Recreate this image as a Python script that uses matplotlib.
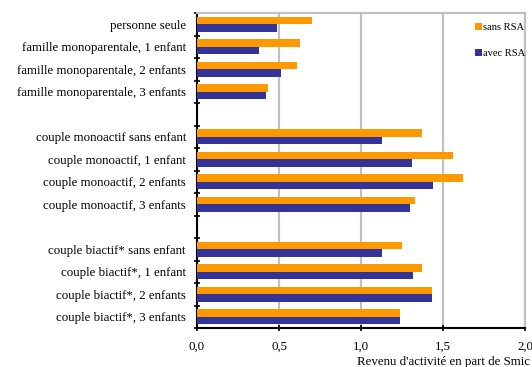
import numpy as np
import matplotlib
matplotlib.use('Agg')
import matplotlib.pyplot as plt
from matplotlib.ticker import FixedLocator, FuncFormatter

# catégories de ménages, de haut en bas ('' = ligne vide entre les groupes)
categories = [
    'personne seule',
    'famille monoparentale, 1 enfant',
    'famille monoparentale, 2 enfants',
    'famille monoparentale, 3 enfants',
    '',
    'couple monoactif sans enfant',
    'couple monoactif, 1 enfant',
    'couple monoactif, 2 enfants',
    'couple monoactif, 3 enfants',
    '',
    'couple biactif* sans enfant',
    'couple biactif*, 1 enfant',
    'couple biactif*, 2 enfants',
    'couple biactif*, 3 enfants',
]

# revenu d'activité en part de Smic (None = pas de barre)
sans_rsa = [0.70, 0.63, 0.61, 0.43, None,
            1.37, 1.56, 1.62, 1.33, None,
            1.25, 1.37, 1.43, 1.24]
avec_rsa = [0.49, 0.38, 0.51, 0.42, None,
            1.13, 1.31, 1.44, 1.30, None,
            1.13, 1.32, 1.43, 1.24]

ORANGE = '#ff9900'
BLEU = '#333399'


def virgule(x, pos):
    return '{:.1f}'.format(x).replace('.', ',')


def main():
    plt.rcParams['font.family'] = ['Liberation Serif', 'DejaVu Serif']

    fig = plt.figure(figsize=(5.32, 3.67), dpi=100)
    ax = fig.add_axes([197 / 532, 1 - 328 / 367, 328 / 532, 315 / 367])

    n = len(categories)
    pos = np.arange(n)
    h = 0.34

    s = np.array([np.nan if v is None else v for v in sans_rsa])
    a = np.array([np.nan if v is None else v for v in avec_rsa])

    ax.barh(pos - h / 2, s, height=h, color=ORANGE, label='sans RSA', zorder=3)
    ax.barh(pos + h / 2, a, height=h, color=BLEU, label='avec RSA', zorder=3)

    ax.set_ylim(n - 0.5, -0.5)
    ax.set_xlim(0, 2.0)

    # étiquettes au centre des lignes, graduations entre les lignes
    ax.set_yticks(pos)
    ax.set_yticklabels(categories, fontsize=9.3)
    ax.tick_params(axis='y', which='major', length=0, pad=8)
    ax.yaxis.set_minor_locator(FixedLocator(np.arange(n + 1) - 0.5))
    ax.tick_params(axis='y', which='minor', length=4, width=1.2,
                   direction='inout', color='black')

    ax.set_xticks([0, 0.5, 1.0, 1.5, 2.0])
    ax.xaxis.set_major_formatter(FuncFormatter(virgule))
    ax.tick_params(axis='x', length=5, width=1.2, direction='inout',
                   labelsize=9.3, pad=7)

    ax.grid(axis='x', color='#c0c0c0', linewidth=1.6, zorder=0)

    ax.spines['left'].set_color('black')
    ax.spines['left'].set_linewidth(1.5)
    ax.spines['bottom'].set_color('black')
    ax.spines['bottom'].set_linewidth(1.5)
    ax.spines['top'].set_color('#c0c0c0')
    ax.spines['top'].set_linewidth(1.6)
    ax.spines['right'].set_color('#c0c0c0')
    ax.spines['right'].set_linewidth(1.6)

    fig.text(357 / 532, 1 - 362 / 367, "Revenu d'activité en part de Smic",
             fontsize=9.3, ha='left', va='center')

    ax.legend(loc='upper left', bbox_to_anchor=(475 / 532, 1 - 23 / 367),
              bbox_transform=fig.transFigure, frameon=False,
              fontsize=7.6, handlelength=0.65, handleheight=0.65,
              handletextpad=0.15, labelspacing=1.55,
              borderpad=0, borderaxespad=0)

    fig.savefig('out.png', dpi=100)


if __name__ == '__main__':
    main()
